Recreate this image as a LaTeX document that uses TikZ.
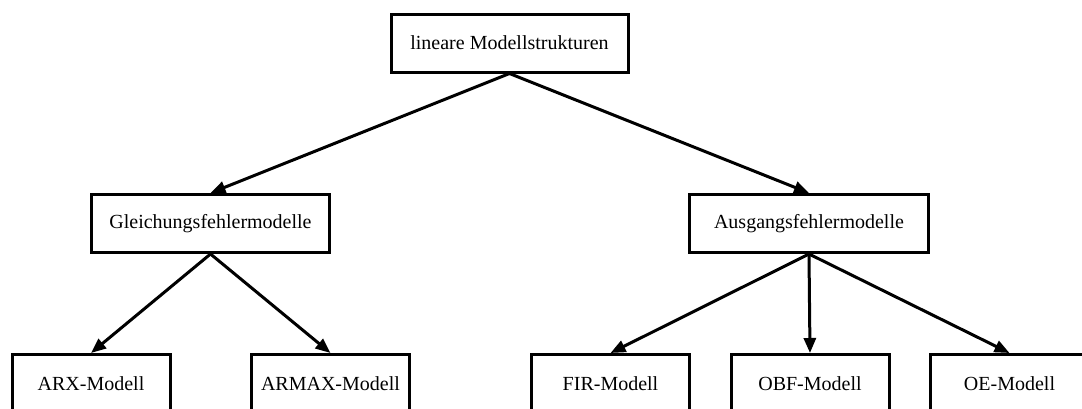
\documentclass[tikz,border=0pt]{standalone}
\usepackage{fontspec}
\setmainfont{Liberation Serif}
\usetikzlibrary{arrows.meta}
\begin{document}
\begin{tikzpicture}[x=1pt,y=-1pt,
  box/.style={draw, line width=3pt, fill=white, inner sep=0pt,
    font=\fontsize{20}{24}\selectfont, minimum height=58pt},
  link/.style={line width=3pt, -{Triangle[length=15pt,width=12pt]}}]
\useasboundingbox (0,0) rectangle (1082,408);
\begin{scope}
\clip (0,0) rectangle (1082,408);
% root
\node[box, minimum width=237pt] (root) at (509.5,43) {lineare Modellstrukturen};
% second level
\node[box, minimum width=238pt] (gl) at (210.5,223.5) {Gleichungsfehlermodelle};
\node[box, minimum width=239pt] (au) at (809,223.5) {Ausgangsfehlermodelle};
% model types
\node[box, minimum width=158pt] (arx) at (91,383.5) {ARX-Modell};
\node[box, minimum width=158pt] (armax) at (330.5,383.5) {ARMAX-Modell};
\node[box, minimum width=158pt] (fir) at (610.5,383.5) {FIR-Modell};
\node[box, minimum width=158pt] (obf) at (810,383.5) {OBF-Modell};
\node[box, minimum width=158pt] (oe) at (1009.5,383.5) {OE-Modell};
% connectors
\draw[link] (root.south) -- (gl.north);
\draw[link] (root.south) -- (au.north);
\draw[link] (gl.south) -- (arx.north);
\draw[link] (gl.south) -- (armax.north);
\draw[link] (au.south) -- (fir.north);
\draw[link] (au.south) -- (obf.north);
\draw[link] (au.south) -- (oe.north);
\end{scope}
\end{tikzpicture}
\end{document}
